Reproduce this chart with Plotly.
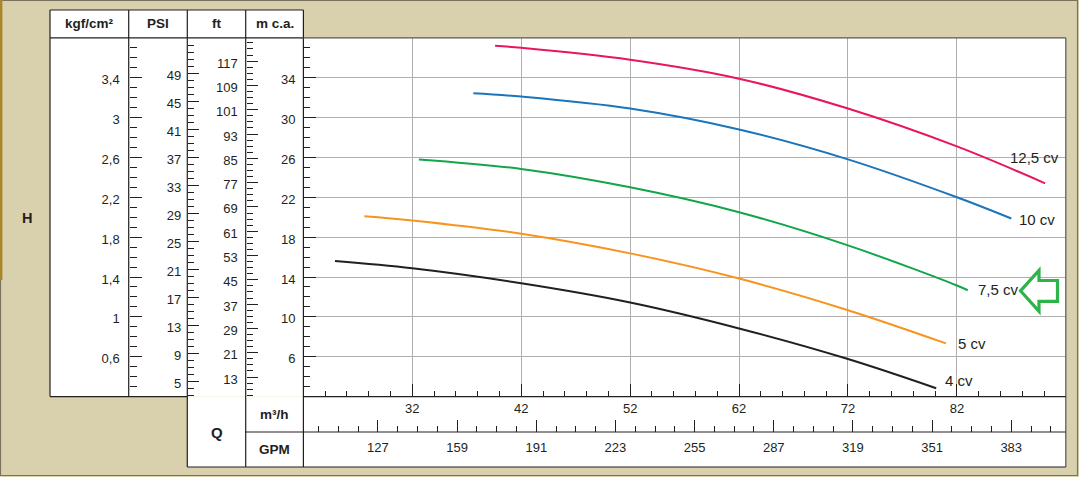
import numpy as np
import plotly.graph_objects as go

# ---------------- data ----------------
# pump curves: flow Q in m3/h, head H in m c.a.
q_4cv = [24.9, 32, 42, 52, 62, 72, 80.1]
h_4cv = [15.6, 14.87, 13.37, 11.44, 8.84, 5.77, 2.84]

q_5cv = [27.6, 32, 42, 52, 62, 72, 81.0]
h_5cv = [20.1, 19.67, 18.34, 16.37, 13.84, 10.67, 7.34]

q_75cv = [32.6, 42, 52, 62, 72, 82, 83.0]
h_75cv = [25.8, 24.84, 23.0, 20.5, 17.17, 13.15, 12.67]

q_10cv = [37.6, 42, 52, 62, 72, 82, 87.0]
h_10cv = [32.44, 32.1, 30.9, 28.8, 25.8, 22.0, 19.87]

q_125cv = [39.6, 42, 52, 62, 72, 82, 90.1]
h_125cv = [37.2, 37.0, 35.8, 33.9, 30.9, 27.1, 23.4]

curve_names = ["4 cv", "5 cv", "7,5 cv", "10 cv", "12,5 cv"]
curve_colors = ["#231f20", "#f7941d", "#12a54b", "#1a75bc", "#e8175d"]
# label anchor (Q, H) for each curve name
label_q = [80.7, 81.9, 83.8, 87.5, 86.7]
label_h = [3.6, 7.3, 12.7, 19.8, 26.0]

# axis ranges / ticks
q_range = [22, 92]
h_range = [2, 38]
m_ticks = [6, 10, 14, 18, 22, 26, 30, 34]
ft_ticks = [13, 21, 29, 37, 45, 53, 61, 69, 77, 85, 93, 101, 109, 117]
psi_ticks = [5, 9, 13, 17, 21, 25, 29, 33, 37, 41, 45, 49]
kgf_ticks = [0.6, 1.0, 1.4, 1.8, 2.2, 2.6, 3.0, 3.4]
kgf_labels = ["0,6", "1", "1,4", "1,8", "2,2", "2,6", "3", "3,4"]
m3h_ticks = [32, 42, 52, 62, 72, 82]
gpm_ticks = [127, 159, 191, 223, 255, 287, 319, 351, 383]

FT_PER_M = 3.28084
PSI_PER_M = 1.42233
KGF_PER_M = 0.1
GPM_PER_M3H = 4.40287

# ---------------- geometry helpers (pixels -> paper) ----------------
W, H = 1079, 477


def X(px):
    return px / W


def Y(py):
    return 1 - py / H


PL, PR, PT, PB = 303.4, 1065.8, 37.8, 396.6
C_KGF, C_PSI, C_FT = 128.7, 187.3, 245.7
LEFT = 50.0
HEAD_TOP = 10.0
ROW_MID = 432.0
BOT = 467.0

INK = "#231f20"
GRID = "#b0b0b0"
BEIGE = "#d9d1ae"
FONT = "Liberation Sans"

fig = go.Figure()

series = [
    (q_4cv, h_4cv), (q_5cv, h_5cv), (q_75cv, h_75cv), (q_10cv, h_10cv), (q_125cv, h_125cv)
]
for (q, h), name, col in zip(series, curve_names, curve_colors):
    fig.add_trace(go.Scatter(x=q, y=h, mode="lines", name=name,
                             line=dict(color=col, width=2, shape="spline", smoothing=1.0),
                             hoverinfo="skip", showlegend=False))

# empty traces to bind the secondary scales
for xa_, ya_ in [("x2", "y"), ("x", "y2"), ("x", "y3"), ("x", "y4")]:
    fig.add_trace(go.Scatter(x=[], y=[], xaxis=xa_, yaxis=ya_, mode="lines",
                             showlegend=False, hoverinfo="skip"))

tickfont = dict(family=FONT, size=13, color=INK)


def minor_vals(lo, hi, step, start):
    v = np.arange(start, hi + 1e-9, step)
    return [float(round(t, 4)) for t in v if t >= lo - 1e-9]


def yaxis_common(rng, tickvals, ticktext=None, major_len=12, minor_len=6, minor=None, standoff=6):
    d = dict(range=rng, tickmode="array", tickvals=tickvals, ticks="inside",
             ticklen=major_len, tickwidth=1, tickcolor=INK, showgrid=False,
             zeroline=False, showline=False, side="left", tickfont=tickfont,
             ticklabelstandoff=standoff, ticklabelshift=2,
             minor=dict(tickmode="array", tickvals=minor, ticks="inside",
                        ticklen=minor_len, tickwidth=1, tickcolor=INK, showgrid=False))
    if ticktext is not None:
        d["ticktext"] = ticktext
    return d


ydom = [Y(PB), Y(PT)]
xdom = [X(PL), X(PR)]

ya = yaxis_common(h_range, m_ticks, major_len=13, minor_len=7,
                  minor=minor_vals(h_range[0], h_range[1], 1, 2), standoff=7)
ya.update(domain=ydom, anchor="x", showgrid=True, gridcolor=GRID, gridwidth=1.3)

ft_rng = [h_range[0] * FT_PER_M, h_range[1] * FT_PER_M]
ya2 = yaxis_common(ft_rng, ft_ticks, major_len=11, minor_len=6,
                   minor=minor_vals(ft_rng[0], ft_rng[1], 2, 7), standoff=8)
ya2.update(overlaying="y", anchor="free", position=X(C_FT))

psi_rng = [h_range[0] * PSI_PER_M, h_range[1] * PSI_PER_M]
ya3 = yaxis_common(psi_rng, psi_ticks, major_len=11, minor_len=6,
                   minor=minor_vals(psi_rng[0], psi_rng[1], 1, 3), standoff=6)
ya3.update(overlaying="y", anchor="free", position=X(C_PSI))

kgf_rng = [h_range[0] * KGF_PER_M, h_range[1] * KGF_PER_M]
ya4 = yaxis_common(kgf_rng, kgf_ticks, ticktext=kgf_labels, major_len=12, minor_len=7,
                   minor=minor_vals(kgf_rng[0], kgf_rng[1], 0.1, 0.2), standoff=9)
ya4.update(overlaying="y", anchor="free", position=X(C_KGF))

xa = dict(domain=xdom, range=q_range, anchor="y", tickmode="array", tickvals=m3h_ticks,
          ticks="inside", ticklen=13, tickwidth=1, tickcolor=INK, showgrid=True,
          gridcolor=GRID, gridwidth=1.3, zeroline=False, showline=False, tickfont=tickfont,
          ticklabelstandoff=2,
          minor=dict(tickmode="array", tickvals=minor_vals(q_range[0], q_range[1], 2, 22),
                     ticks="inside", ticklen=6, tickwidth=1, tickcolor=INK, showgrid=False))

gpm_rng = [q_range[0] * GPM_PER_M3H, q_range[1] * GPM_PER_M3H]
xa2 = dict(overlaying="x", anchor="free", position=Y(ROW_MID), side="bottom",
           range=gpm_rng, tickmode="array", tickvals=gpm_ticks, ticks="inside", ticklen=12,
           tickwidth=1, tickcolor=INK, showgrid=False, zeroline=False, showline=False,
           tickfont=tickfont, ticklabelstandoff=6,
           minor=dict(tickmode="array", tickvals=minor_vals(gpm_rng[0], gpm_rng[1], 8, 103),
                      ticks="inside", ticklen=6, tickwidth=1, tickcolor=INK, showgrid=False))

shapes = []


def rect(x0, y0, x1, y1, fill=None, line=None, width=1.2, layer="below"):
    shapes.append(dict(type="rect", xref="paper", yref="paper", x0=X(x0), x1=X(x1),
                       y0=Y(y1), y1=Y(y0), fillcolor=fill if fill else "rgba(0,0,0,0)",
                       line=dict(color=line if line else "rgba(0,0,0,0)", width=width if line else 0),
                       layer=layer))


def hline(x0, x1, y, color=INK, width=1.2):
    shapes.append(dict(type="line", xref="paper", yref="paper", x0=X(x0), x1=X(x1),
                       y0=Y(y), y1=Y(y), line=dict(color=color, width=width), layer="above"))


def vline(x, y0, y1, color=INK, width=1.2):
    shapes.append(dict(type="line", xref="paper", yref="paper", x0=X(x), x1=X(x),
                       y0=Y(y0), y1=Y(y1), line=dict(color=color, width=width), layer="above"))


# white panels
rect(LEFT, HEAD_TOP, PL, PB, fill="white")
rect(C_PSI, PB, PR, BOT, fill="white")
rect(PL, PT, PR, PB, fill="white")

# outer frame
rect(0.5, 0.5, W - 1.5, H - 1.5, line="#77735f", width=1.2, layer="above")
vline(1.2, 0, 280, color="#a8862a", width=2.4)

# borders
hline(LEFT, PL, HEAD_TOP)
hline(LEFT, PL, PT)
hline(LEFT, C_PSI, PB)
vline(LEFT, HEAD_TOP, PB)
vline(C_KGF, HEAD_TOP, PB)
vline(C_PSI, HEAD_TOP, BOT)
vline(C_FT, HEAD_TOP, BOT)
vline(PL, HEAD_TOP, BOT)
hline(PL, PR, PT, color="#555555")
vline(PR, PT, BOT, color="#555555")
hline(PL, PR, PB)
hline(C_FT, PR, ROW_MID)
hline(C_PSI, PR, BOT)

# green outline arrow pointing to 7,5 cv
pts = [(1020.5, 290.8), (1039, 270.5), (1039, 280.5), (1057.5, 280.5),
       (1057.5, 301.3), (1039, 301.3), (1039, 311.3)]
path = "M " + " L ".join(f"{X(a):.5f},{Y(b):.5f}" for a, b in pts) + " Z"
shapes.append(dict(type="path", xref="paper", yref="paper", path=path,
                   line=dict(color="#2db34a", width=3.2), fillcolor="white", layer="above"))

annotations = []


def text(px, py, s, size=13.5, bold=True, xanchor="center"):
    annotations.append(dict(xref="paper", yref="paper", x=X(px), y=Y(py), text=f"<b>{s}</b>" if bold else s,
                            showarrow=False, xanchor=xanchor, yanchor="middle",
                            font=dict(family=FONT, size=size, color=INK)))


text(89.3, 23.5, "kgf/cm²", 13.5)
text(158, 23.5, "PSI", 13.5)
text(216.5, 23.5, "ft", 13.5)
text(274.5, 23.5, "m c.a.", 13.5)
text(27, 218, "H", 14.5)
text(216.5, 432, "Q", 15)
text(274.5, 414, "m³/h", 13.5)
text(274.5, 449.5, "GPM", 13.5)

for name, lq, lh in zip(curve_names, label_q, label_h):
    annotations.append(dict(xref="x", yref="y", x=lq, y=lh, text=name, showarrow=False,
                            xanchor="left", yanchor="middle",
                            font=dict(family=FONT, size=15, color=INK)))

fig.update_layout(
    width=W, height=H, margin=dict(l=0, r=0, t=0, b=0),
    paper_bgcolor=BEIGE, plot_bgcolor="white", showlegend=False,
    font=dict(family=FONT, color=INK, size=13),
    xaxis=xa, xaxis2=xa2, yaxis=ya, yaxis2=ya2, yaxis3=ya3, yaxis4=ya4,
    shapes=shapes, annotations=annotations,
)

fig.write_html("out.html", config={"displayModeBar": False},
               post_script="document.body.style.margin='0';")
